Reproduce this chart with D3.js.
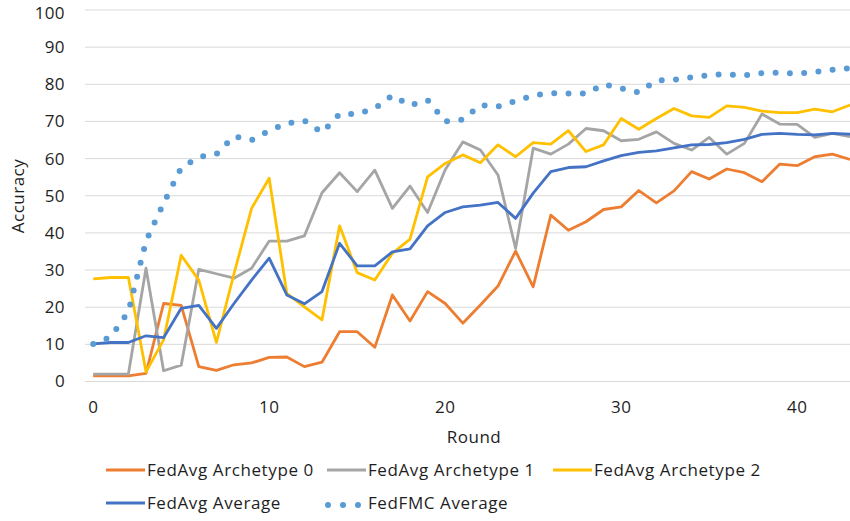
<html>
  <head>
    <style>
      body { margin: 0; background: #fff; }
      text { font-family: "Open Sans", sans-serif; fill: #1e1e1e; }
      .grid line { stroke: #d9d9d9; stroke-width: 1px; }
    </style>
  </head>
  <body>
    <script src="https://d3js.org/d3.v7.min.js"></script>
    <script>
    var width = 850, height = 521;

    // x values (round)
    var rounds = [0,1,2,3,4,5,6,7,8,9,10,11,12,13,14,15,16,17,18,19,20,21,22,23,24,25,26,27,28,29,30,31,32,33,34,35,36,37,38,39,40,41,42,43];

    var arch0 = [1.5,1.5,1.5,2.2,21,20.5,4,3,4.5,5,6.5,6.6,4,5.2,13.4,13.4,9.2,23.3,16.3,24.2,21,15.7,20.6,25.7,35.1,25.5,44.8,40.7,43,46.3,47,51.4,48.1,51.3,56.5,54.5,57.2,56.2,53.8,58.5,58.1,60.5,61.2,59.8];
    var arch1 = [2,2,2,30.5,2.9,4.4,30.2,29,27.8,30.5,37.8,37.8,39.2,50.8,56.2,51.1,56.9,46.6,52.6,45.5,57,64.5,62.3,55.6,35.8,62.8,61.2,63.9,68.1,67.5,64.8,65.2,67.2,64.1,62.3,65.7,61.2,64.1,72,69.3,69.2,65.7,66.8,65.9];
    var arch2 = [27.6,28,28,2.6,11.2,34,27.3,10.5,29,46.6,54.7,23.7,20.1,16.6,41.9,29.3,27.3,34.5,38.3,55.1,58.7,61,58.9,63.7,60.5,64.3,63.9,67.5,61.9,63.7,70.8,67.9,70.8,73.5,71.5,71.1,74.2,73.8,72.8,72.4,72.4,73.3,72.6,74.4];
    var fedAvg = [10.1,10.5,10.5,12.3,11.8,19.7,20.5,14.3,21,27.3,33.2,23.3,20.9,24.2,37.2,31.1,31.1,34.9,35.7,41.9,45.5,47,47.5,48.2,43.9,50.7,56.5,57.6,57.8,59.4,60.8,61.7,62.1,62.9,63.7,63.8,64.3,65.2,66.5,66.8,66.5,66.4,66.8,66.6];
    var fedFmc = [10.1,12,18.8,37.8,48,57.5,60.4,61.2,66,65,67.5,69.5,70.2,67,72,72,73.5,77,74.3,75.7,70,70.5,74.4,74,75.5,77,77.6,77.5,77.5,80,78.9,77.8,81,81.2,81.9,82.5,82.7,82.4,83,83.1,82.9,83.3,83.9,84.3];

    var xTicks = [0,10,20,30,40];
    var yTicks = [0,10,20,30,40,50,60,70,80,90,100];

    var series = [
      {name: "FedAvg Archetype 0", values: arch0, color: "#ed7d31", dotted: false},
      {name: "FedAvg Archetype 1", values: arch1, color: "#a5a5a5", dotted: false},
      {name: "FedAvg Archetype 2", values: arch2, color: "#ffc000", dotted: false},
      {name: "FedAvg Average", values: fedAvg, color: "#4472c4", dotted: false},
      {name: "FedFMC Average", values: fedFmc, color: "#5b9bd5", dotted: true}
    ];

    var svg = d3.select("body")
        .append("svg")
        .attr("width", width)
        .attr("height", height);

    var x = d3.scaleLinear().domain([0, 43]).range([93.2, 850]);
    var y = d3.scaleLinear().domain([0, 100]).range([381.5, 10]);

    // gridlines
    svg.append("g").attr("class", "grid")
      .selectAll("line")
      .data(yTicks)
      .enter().append("line")
      .attr("x1", 85).attr("x2", width)
      .attr("y1", function(d){ return y(d); })
      .attr("y2", function(d){ return y(d); });

    // y tick labels (top one nudged down so it stays inside the picture)
    svg.append("g")
      .selectAll("text")
      .data(yTicks)
      .enter().append("text")
      .attr("x", 65)
      .attr("y", function(d){ return Math.max(y(d), 13); })
      .attr("dy", "0.35em")
      .attr("text-anchor", "end")
      .style("font-size", "17px")
      .style("letter-spacing", "0.4px")
      .text(function(d){ return d; });

    // x tick labels
    svg.append("g")
      .selectAll("text")
      .data(xTicks)
      .enter().append("text")
      .attr("x", function(d){ return x(d); })
      .attr("y", 407)
      .attr("dy", "0.35em")
      .attr("text-anchor", "middle")
      .style("font-size", "17px")
      .style("letter-spacing", "0.4px")
      .text(function(d){ return d; });

    svg.append("text")
      .attr("x", 474).attr("y", 437).attr("dy", "0.35em")
      .attr("text-anchor", "middle")
      .style("font-size", "17px")
      .style("letter-spacing", "0.5px")
      .text("Round");

    svg.append("text")
      .attr("transform", "translate(18,196) rotate(-90)")
      .attr("dy", "0.35em")
      .attr("text-anchor", "middle")
      .style("font-size", "17px")
      .style("letter-spacing", "0.5px")
      .text("Accuracy");

    var line = d3.line()
      .x(function(d, i){ return x(rounds[i]); })
      .y(function(d){ return y(d); });

    series.forEach(function(s){
      var p = svg.append("path")
        .datum(s.values)
        .attr("fill", "none")
        .attr("stroke", s.color)
        .attr("d", line);
      if (s.dotted) {
        p.attr("stroke-width", 6)
         .attr("stroke-linecap", "round")
         .attr("stroke-dasharray", "0,14.3");
      } else {
        p.attr("stroke-width", 2.8)
         .attr("stroke-linejoin", "round");
      }
    });

    // legend
    var legendPos = [
      {x: 106, y: 470}, {x: 327, y: 470}, {x: 553, y: 470},
      {x: 106, y: 503}, {x: 327, y: 503}
    ];
    series.forEach(function(s, i){
      var lp = legendPos[i];
      var g = svg.append("g").attr("transform", "translate(" + lp.x + "," + lp.y + ")");
      if (s.dotted) {
        g.append("line")
          .attr("x1", 1).attr("x2", 32).attr("y1", 2).attr("y2", 2)
          .attr("stroke", s.color)
          .attr("stroke-width", 6)
          .attr("stroke-linecap", "round")
          .attr("stroke-dasharray", "0,15");
      } else {
        g.append("line")
          .attr("x1", 0).attr("x2", 39).attr("y1", 0).attr("y2", 0)
          .attr("stroke", s.color)
          .attr("stroke-width", 2.8);
      }
      g.append("text")
        .attr("x", 41)
        .attr("dy", "0.35em")
        .style("font-size", "17px")
        .style("letter-spacing", "0.6px")
        .text(s.name);
    });
    </script>
  </body>
</html>
